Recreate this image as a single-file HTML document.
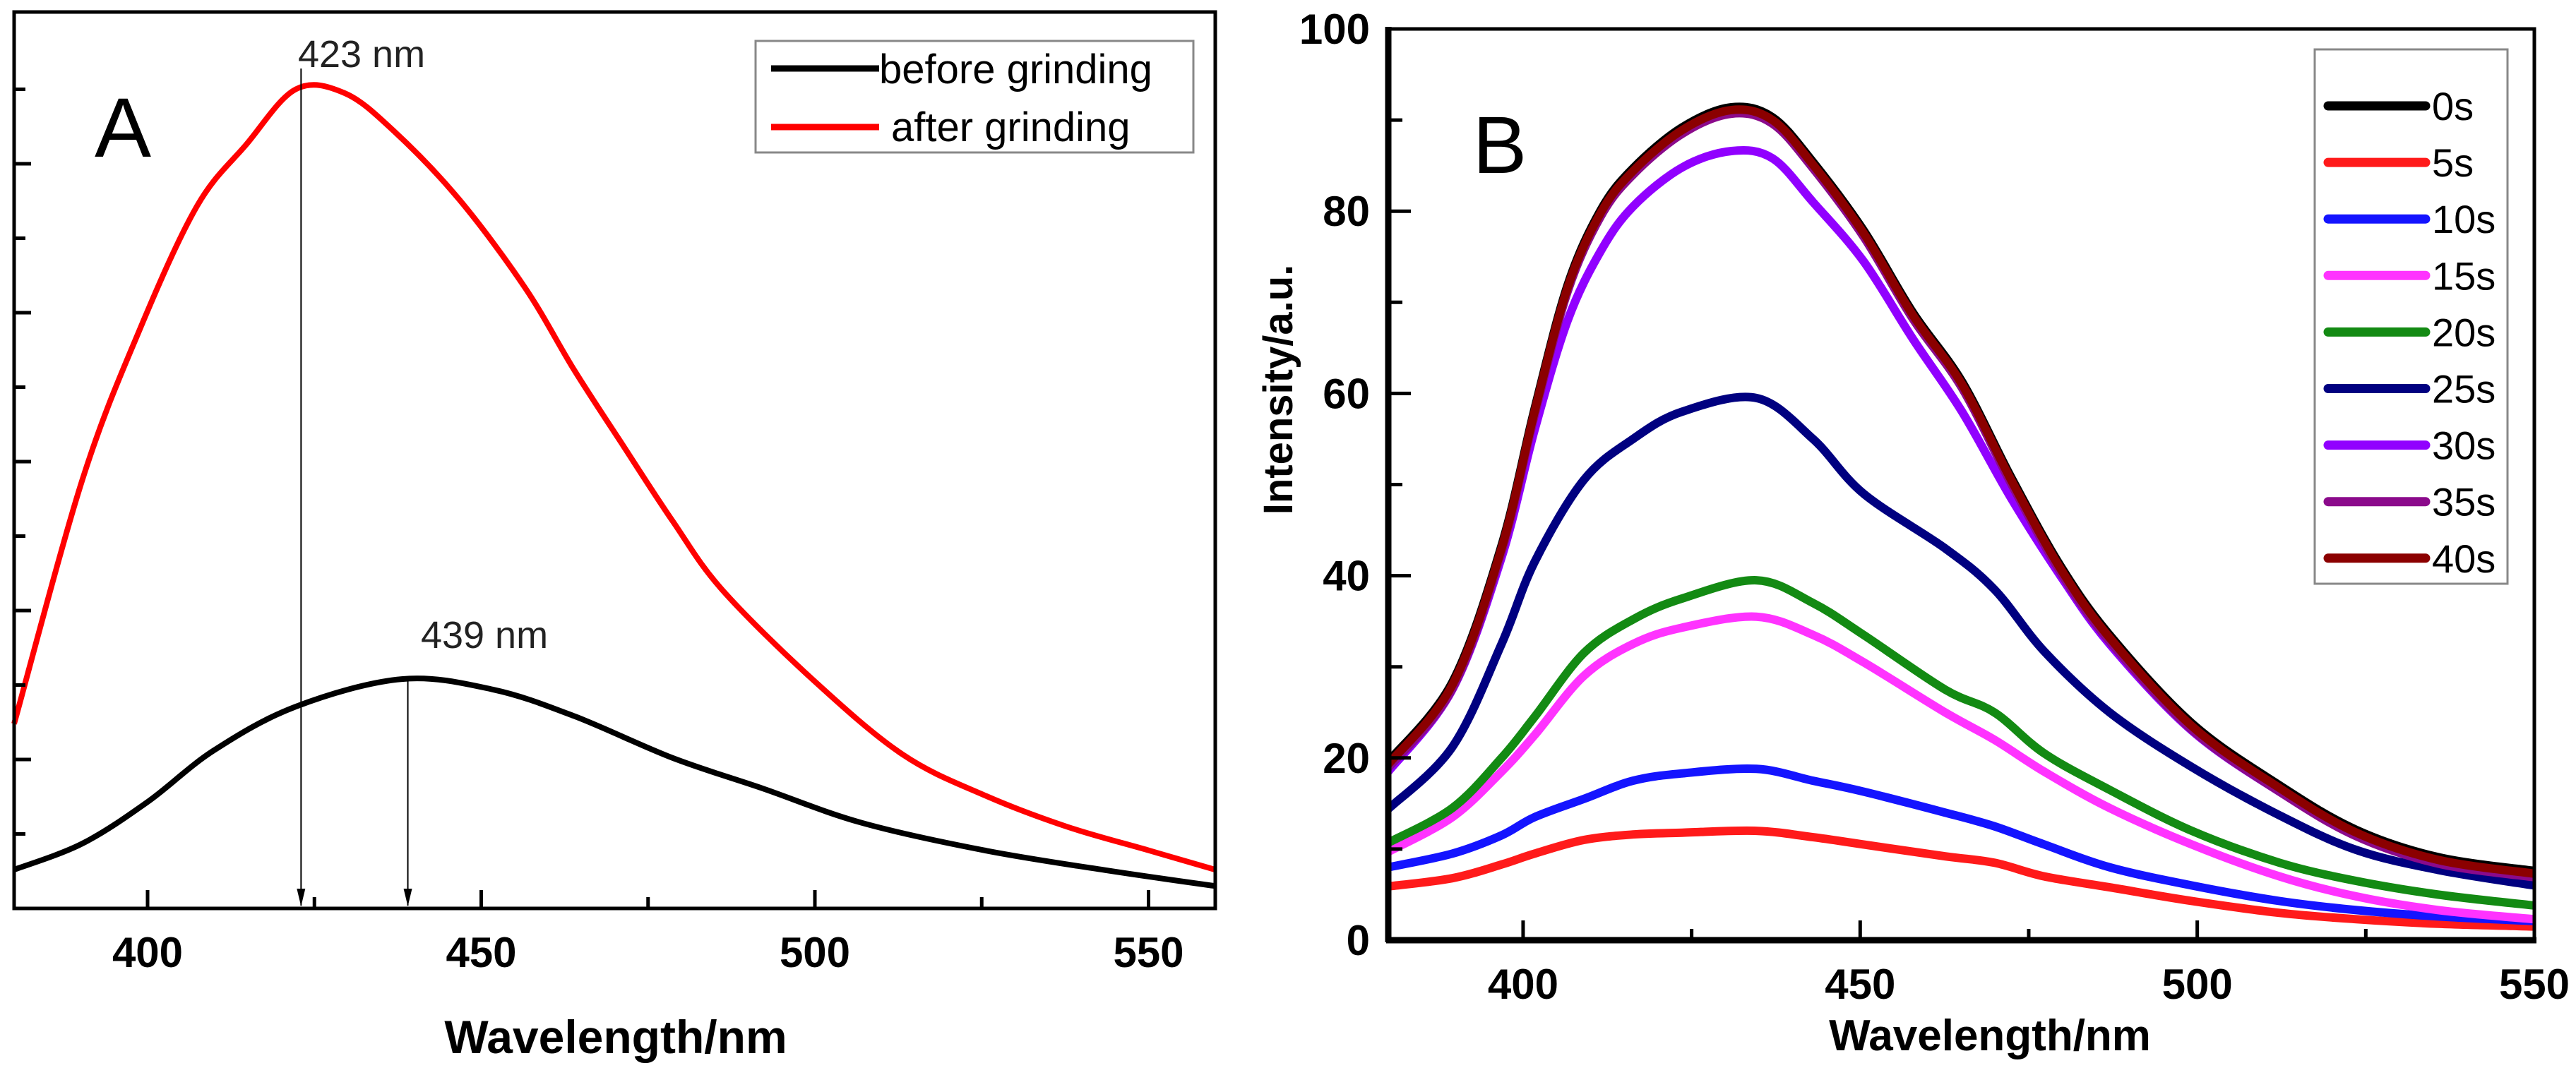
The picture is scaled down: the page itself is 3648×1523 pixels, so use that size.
<!DOCTYPE html>
<html><head><meta charset="utf-8"><style>
html,body{margin:0;padding:0;background:#fff}
svg{display:block}
text{font-family:"Liberation Sans",Arial,sans-serif}
</style></head><body>
<svg id="fig" width="3648" height="1523" viewBox="0 0 3648 1523" xmlns="http://www.w3.org/2000/svg">
<g id="pa"></g>
<g id="pb"></g>
</svg>
<script>
// ---- Panel A data ----
const aRedX=[380,390.2,398.8,407.4,414.8,422.2,429.5,436.9,446.7,456.6,464,471.3,478.7,486.1,499.6,513.1,525.4,537.7,550,560];
const aRedY=[2.48,5.75,7.77,9.43,10.26,11.0,10.95,10.44,9.52,8.33,7.22,6.21,5.2,4.28,3.08,2.07,1.52,1.10,0.78,0.52];
const aBlkX=[380,390.2,400,409.9,422.2,438.1,451.7,464,478.7,492.2,507,525.4,543.8,560];
const aBlkY=[0.52,0.87,1.43,2.12,2.71,3.08,2.94,2.58,2.02,1.61,1.15,0.78,0.51,0.30];
const aXTicks=[400,450,500,550];
const aXMinor=[425,475,525];
const aYTicks=[1,2,3,4,5,6,7,8,9,10,11];
const aPeaks=[423,439];
const aPeakLabels=["423 nm","439 nm"];
// ---- Panel B data ----
const bX=[380,389.5,396.8,401.7,409,416.3,423.6,434.6,443,450.5,462.6,469.9,477.3,487,499.2,512.2,523.6,535.8,550];
const bXtop=[380,389.5,396.8,401.7,406.6,411.5,416.3,423.6,430.9,437,443,450.5,457.8,465.1,472.4,479.7,487,499.2,512.2,523.6,535.8,550];
const s40=[19.3,28,43,58,71.6,79.8,84.4,88.9,91.1,90,85.1,77.6,68.6,61,50.5,40.8,33.2,23.5,16.7,11.8,8.8,7.3];
const s30=[18.5,27.5,42,56,68,75.6,80.5,84.8,86.6,85.8,81,74.5,66,58,48.5,40,32.5,23,16.3,11.5,8.6,7];
const s25=[14.4,21.2,32.5,41.5,50.5,55,58,59.5,55,49,43,38.5,31.7,25,19,13.7,9.9,7.7,6];
const s20=[10.7,14.5,20,24.5,31.5,35.2,37.5,39.5,37,33.5,27.5,25,20.5,16.5,12,8.5,6.5,5,3.8];
const s15=[9.7,13.5,18.5,22.5,29,32.5,34.3,35.5,33.5,30.5,25,22,18.5,14.5,10.5,7,4.8,3.3,2.3];
const s10=[8,9.5,11.5,13.5,15.5,17.5,18.3,18.8,17.5,16.3,14,12.5,10.5,8,6,4.3,3.3,2.6,2.1];
const s5=[5.9,6.8,8.3,9.5,11,11.6,11.8,12,11.3,10.5,9.2,8.5,7,5.8,4.3,3,2.3,1.8,1.5];
const bLabels=["0s","5s","10s","15s","20s","25s","30s","35s","40s"];
const bColors=["#000000","#ff1a1a","#1414ff","#ff33ff","#138a13","#000080","#9100ff","#8b0a8b","#8b0000"];
const bYTicks=[0,20,40,60,80,100];
const bYMinor=[10,30,50,70,90];
const bXTicks=[400,450,500,550];
const bXMinor=[425,475,525];

const NS="http://www.w3.org/2000/svg";
function mk(parent,tag,attrs,txt){const e=document.createElementNS(NS,tag);for(const k in attrs)e.setAttribute(k,attrs[k]);if(txt!==undefined)e.textContent=txt;parent.appendChild(e);return e;}
function smooth(xs,ys,fx,fy){const p=xs.map((x,i)=>[fx(x),fy(ys[i])]);let d="M"+p[0][0].toFixed(1)+","+p[0][1].toFixed(1);
for(let i=0;i<p.length-1;i++){const p0=p[i-1]||p[i],p1=p[i],p2=p[i+1],p3=p[i+2]||p2;
const c1=[p1[0]+(p2[0]-p0[0])/6,p1[1]+(p2[1]-p0[1])/6],c2=[p2[0]-(p3[0]-p1[0])/6,p2[1]-(p3[1]-p1[1])/6];
d+=" C"+c1[0].toFixed(1)+","+c1[1].toFixed(1)+" "+c2[0].toFixed(1)+","+c2[1].toFixed(1)+" "+p2[0].toFixed(1)+","+p2[1].toFixed(1);}return d;}

// ===== Panel A =====
const pa=document.getElementById('pa');
const aL=20,aR=1721,aT=17,aB=1287;
const ax=v=>aL+(v-380)/(560-380)*(aR-aL);
const ay=v=>aB-v*105.5;
let e;
e=mk(pa,'path',{d:smooth(aRedX,aRedY,ax,ay),fill:'none',stroke:'#ff0000','stroke-width':8,'stroke-linejoin':'round'});

e=mk(pa,'path',{d:smooth(aBlkX,aBlkY,ax,ay),fill:'none',stroke:'#000','stroke-width':8,'stroke-linejoin':'round'});

// arrows
const arrowTop=[100,988];
aPeaks.forEach((p,i)=>{const x=ax(p);
 e=mk(pa,'line',{x1:x,y1:arrowTop[i]*0.971,x2:x,y2:aB-4,stroke:'#000','stroke-width':2});
 
 mk(pa,'polygon',{points:`${x-6},${aB-28} ${x+6},${aB-28} ${x},${aB-3}`,fill:'#000'});
});
e=mk(pa,'text',{x:512,y:95,'font-size':54,'text-anchor':'middle',fill:'#222'},aPeakLabels[0]);

e=mk(pa,'text',{x:686,y:918,'font-size':54,'text-anchor':'middle',fill:'#222'},aPeakLabels[1]);

e=mk(pa,'text',{x:174,y:222,'font-size':120,'text-anchor':'middle',fill:'#000'},"A");

// axes frame
e=mk(pa,'rect',{x:aL,y:aT,width:aR-aL,height:aB-aT,fill:'none',stroke:'#000','stroke-width':5});

aYTicks.forEach(v=>{mk(pa,'line',{x1:aL,y1:ay(v),x2:aL+(v%2===0?24:16),y2:ay(v),stroke:'#000','stroke-width':5});});
aXTicks.forEach(v=>{mk(pa,'line',{x1:ax(v),y1:aB,x2:ax(v),y2:aB-26,stroke:'#000','stroke-width':5});
 e=mk(pa,'text',{x:ax(v),y:1370,'font-size':60,'font-weight':'bold','text-anchor':'middle'},String(v));
 });
aXMinor.forEach(v=>{mk(pa,'line',{x1:ax(v),y1:aB,x2:ax(v),y2:aB-16,stroke:'#000','stroke-width':5});});
e=mk(pa,'text',{x:872,y:1492,'font-size':66,'font-weight':'bold','text-anchor':'middle'},"Wavelength/nm");

// legend A
const lgA=mk(pa,'g',{});
mk(lgA,'rect',{x:1070,y:58,width:620,height:158,fill:'#fff',stroke:'#888','stroke-width':3});
mk(lgA,'line',{x1:1092,y1:97,x2:1245,y2:97,stroke:'#000','stroke-width':9});
e=mk(lgA,'text',{x:1245,y:118,'font-size':58},"before grinding");
mk(lgA,'line',{x1:1092,y1:180,x2:1245,y2:180,stroke:'#ff0000','stroke-width':9});
e=mk(lgA,'text',{x:1262,y:200,'font-size':58},"after grinding");

// ===== Panel B =====
const pb=document.getElementById('pb');
const bL=1966,bR=3589,bT=41,bB=1332;
const bx=v=>bL+(v-380)/(550-380)*(bR-bL);
const by=v=>bB-v/100*(bB-bT);
const series=[
 [bXtop,s40.map(v=>v+0.3)],[bX,s5],[bX,s10],[bX,s15],[bX,s20],[bX,s25],[bXtop,s30],[bXtop,s40.map(v=>v-0.4)],[bXtop,s40]
];
const order=[1,2,3,4,5,0,6,7,8];
order.forEach(i=>{e=mk(pb,'path',{d:smooth(series[i][0],series[i][1],bx,by),fill:'none',stroke:bColors[i],'stroke-width':12,'stroke-linejoin':'round'});
 });
e=mk(pb,'rect',{x:bL,y:bT,width:bR-bL,height:bB-bT,fill:'none',stroke:'#000','stroke-width':5});

mk(pb,'line',{x1:bL,y1:bT-3,x2:bL,y2:bB+3,stroke:'#000','stroke-width':9});
mk(pb,'line',{x1:bL-3,y1:bB,x2:bR+3,y2:bB,stroke:'#000','stroke-width':9});
bYTicks.forEach(v=>{if(v>0&&v<100)mk(pb,'line',{x1:bL,y1:by(v),x2:bL+32,y2:by(v),stroke:'#000','stroke-width':5});
 e=mk(pb,'text',{x:1940,y:by(v)+21,'font-size':60,'font-weight':'bold','text-anchor':'end'},String(v));
 });
bYMinor.forEach(v=>{mk(pb,'line',{x1:bL,y1:by(v),x2:bL+20,y2:by(v),stroke:'#000','stroke-width':5});});
bXTicks.forEach(v=>{mk(pb,'line',{x1:bx(v),y1:bB,x2:bx(v),y2:bB-28,stroke:'#000','stroke-width':5});
 e=mk(pb,'text',{x:bx(v),y:1415,'font-size':60,'font-weight':'bold','text-anchor':'middle'},String(v));
 });
bXMinor.forEach(v=>{mk(pb,'line',{x1:bx(v),y1:bB,x2:bx(v),y2:bB-16,stroke:'#000','stroke-width':5});});
e=mk(pb,'text',{x:2818,y:1488,'font-size':62,'font-weight':'bold','text-anchor':'middle'},"Wavelength/nm");

e=mk(pb,'text',{x:0,y:0,'font-size':58,'font-weight':'bold','text-anchor':'middle',transform:'translate(1830,552) rotate(-90)'},"Intensity/a.u.");

e=mk(pb,'text',{x:2124,y:245,'font-size':115,'text-anchor':'middle'},"B");

const lgB=mk(pb,'g',{});
mk(lgB,'rect',{x:3278,y:70,width:273,height:757,fill:'#fff',stroke:'#888','stroke-width':3});
bLabels.forEach((lab,i)=>{const y=150+i*80.1;
 mk(lgB,'line',{x1:3297,y1:y,x2:3435,y2:y,stroke:bColors[i],'stroke-width':13,'stroke-linecap':'round'});
 e=mk(lgB,'text',{x:3444,y:y+20,'font-size':56},lab);
 });
</script>
</body></html>
